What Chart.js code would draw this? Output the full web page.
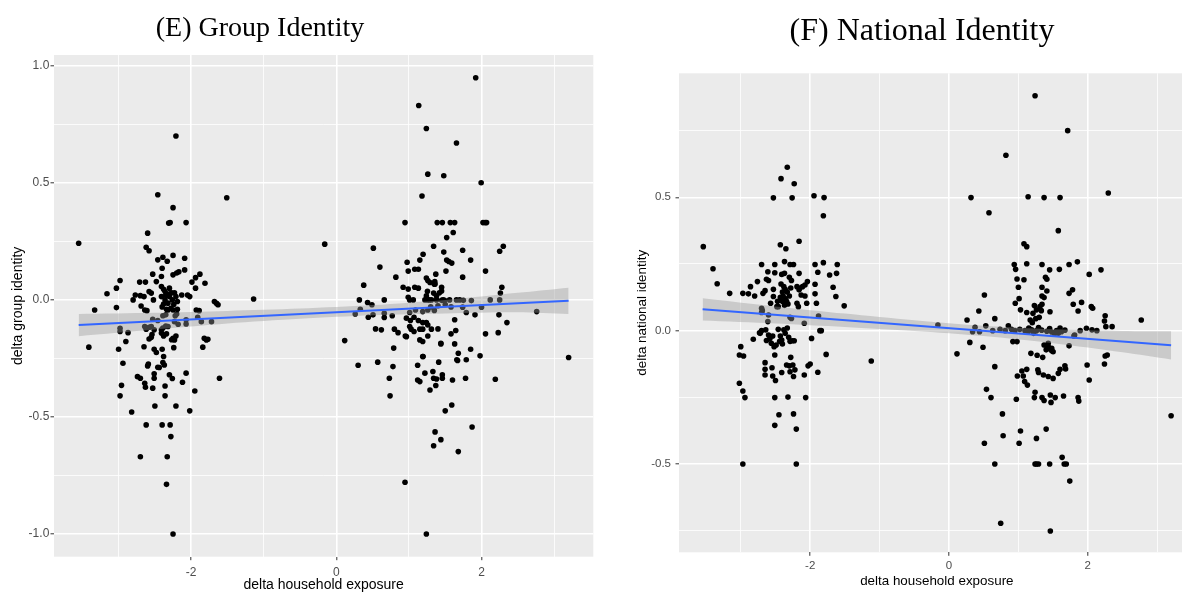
<!DOCTYPE html>
<html>
<head>
<meta charset="utf-8">
<script src="https://cdn.jsdelivr.net/npm/chart.js@4.4.1/dist/chart.umd.min.js"></script>
<style>
  body { margin: 0; overflow: hidden; background: #fff; width: 1182px; height: 594px; }
  .title { position: absolute; font-family: 'Liberation Serif', 'Times New Roman', serif; text-align: center; color: #000; white-space: nowrap; z-index: 2; }
  .panel { position: absolute; top: 0; }
</style>
</head>
<body>
<div class="title" style="left:60px; top:13px; width:400px; font-size:28px; line-height:28px;">(E) Group Identity</div>
<div class="title" style="left:722px; top:13px; width:400px; font-size:32px; line-height:32px;">(F) National Identity</div>
<div class="panel" style="left:0; width:600px; height:594px;"><canvas id="chartE" width="600" height="594"></canvas></div>
<div class="panel" style="left:600px; width:600px; height:594px;"><canvas id="chartF" width="600" height="594"></canvas></div>
<script>
// (E) delta household exposure vs delta group identity
const groupPoints = [
  [-3.55,0.242],[-2.21,0.70],[-2.46,0.449],[-1.51,0.436],[-2.25,0.394],[-2.31,0.328],[-2.29,0.33],[-2.07,0.33],
  [-2.60,0.285],[-2.62,0.225],[-2.58,0.21],[-2.25,0.19],[-2.46,0.171],[-2.39,0.182],[-2.33,0.165],[-2.09,0.178],
  [-2.40,0.135],[-2.53,0.11],[-2.41,0.10],[-2.25,0.107],[-2.20,0.115],[-2.17,0.12],[-2.09,0.128],[-2.98,0.083],
  [-3.03,0.05],[-2.71,0.076],[-2.63,0.076],[-2.48,0.078],[-1.99,0.076],[-1.94,0.095],[-1.88,0.11],[-1.81,0.071],
  [-1.94,0.05],[-3.16,0.026],[-2.77,0.021],[-2.70,0.018],[-2.65,0.014],[-2.80,0.0],[-2.58,0.036],[-2.55,0.029],
  [-2.52,0.0],[-2.41,0.057],[-2.38,0.045],[-2.36,0.036],[-2.41,0.014],[-2.32,0.025],[-2.36,0.0],[-2.30,0.014],
  [-2.26,0.0],[-2.32,-0.014],[-2.38,-0.018],[-2.21,0.014],[-2.19,-0.007],[-2.24,-0.02],[-2.28,-0.036],[-2.34,-0.04],
  [-2.40,-0.03],[-2.30,0.05],[-2.27,0.03],[-2.35,0.02],[-2.23,0.03],[-2.13,0.021],[-2.05,0.021],[-2.02,0.014],
  [-1.68,-0.007],[-1.63,-0.021],[-1.65,-0.015],[-1.14,0.004],
  [-3.33,-0.043],[-3.03,-0.033],[-2.69,-0.026],[-2.64,-0.043],[-2.61,-0.046],[-2.32,-0.043],[-2.25,-0.043],[-2.19,-0.04],
  [-2.20,-0.06],[-1.93,-0.043],[-1.89,-0.046],[-2.39,-0.068],[-2.35,-0.064],[-2.22,-0.068],[-2.53,-0.083],[-2.46,-0.088],
  [-2.23,-0.093],[-2.18,-0.104],[-2.07,-0.085],[-2.07,-0.103],[-1.91,-0.074],[-1.86,-0.093],[-1.72,-0.093],[-2.98,-0.121],
  [-2.98,-0.135],[-2.87,-0.14],[-2.64,-0.114],[-2.62,-0.125],[-2.58,-0.117],[-2.55,-0.114],[-2.51,-0.128],[-2.41,-0.128],
  [-2.39,-0.12],[-2.35,-0.112],[-2.32,-0.114],[-2.41,-0.142],[-2.38,-0.154],[-2.34,-0.145],[-2.25,-0.164],[-2.21,-0.154],
  [-2.23,-0.171],[-2.90,-0.178],[-2.58,-0.167],[-2.55,-0.16],[-2.54,-0.148],[-2.27,-0.17],[-1.82,-0.164],[-1.79,-0.171],
  [-1.77,-0.168],[-1.84,-0.202],[-3.41,-0.202],[-3.00,-0.211],[-2.65,-0.2],[-2.51,-0.211],[-2.48,-0.225],[-2.40,-0.211],
  [-2.24,-0.204],[-2.94,-0.271],[-2.59,-0.274],[-2.60,-0.282],[-2.46,-0.288],[-2.38,-0.242],[-2.39,-0.268],[-2.37,-0.278],
  [-2.96,-0.365],[-2.98,-0.41],[-2.82,-0.479],[-2.74,-0.328],[-2.70,-0.335],[-2.64,-0.356],[-2.63,-0.373],[-2.51,-0.316],
  [-2.51,-0.335],[-2.53,-0.377],[-2.50,-0.453],[-2.62,-0.534],[-2.70,-0.67],[-2.44,-0.289],[-2.30,-0.32],[-2.26,-0.336],
  [-2.36,-0.368],[-2.36,-0.41],[-2.21,-0.453],[-2.40,-0.534],[-2.29,-0.534],[-2.28,-0.584],[-2.33,-0.67],[-2.34,-0.788],
  [-2.25,-1.0],[-2.07,-0.313],[-2.12,-0.352],[-1.95,-0.389],[-2.02,-0.474],[-1.61,-0.335],
  [1.92,0.949],[1.135,0.83],[1.24,0.732],[1.655,0.67],[1.26,0.537],[1.48,0.53],[1.995,0.5],[1.18,0.444],
  [0.946,0.33],[1.39,0.33],[1.46,0.33],[1.57,0.33],[1.63,0.33],[2.02,0.33],[2.05,0.33],[2.07,0.33],
  [1.61,0.288],[1.52,0.266],[-0.16,0.238],[0.51,0.221],[1.34,0.229],[2.30,0.229],[2.25,0.208],[1.48,0.204],
  [1.74,0.212],[1.195,0.195],[1.15,0.17],[0.975,0.161],[1.52,0.17],[1.55,0.164],[1.59,0.157],[1.85,0.17],
  [0.60,0.14],[1.08,0.131],[1.13,0.131],[0.99,0.123],[1.51,0.123],[2.055,0.123],[0.82,0.097],[1.37,0.11],
  [1.74,0.097],[1.24,0.093],[1.26,0.083],[1.29,0.074],[0.377,0.063],[0.92,0.054],[0.99,0.046],[1.08,0.054],
  [1.13,0.05],[1.255,0.037],[1.35,0.067],[1.34,0.029],[1.45,0.054],[2.28,0.054],[2.26,0.029],[1.356,0.078],
  [1.36,0.068],[1.45,0.038],[1.24,0.017],[1.38,0.017],[1.42,0.03],
  [0.317,0.0],[0.43,-0.011],[0.66,0.0],[0.99,0.011],[1.01,0.0],[1.06,0.0],[1.22,0.0],[1.26,0.0],
  [1.31,0.0],[1.38,0.0],[1.45,-0.002],[1.49,-0.002],[1.56,0.0],[1.655,0.0],[1.70,0.0],[1.75,-0.002],
  [1.86,-0.003],[2.12,0.0],[2.25,0.0],[1.47,0.0],[1.28,0.0],
  [0.33,-0.04],[0.49,-0.021],[0.26,-0.06],[0.44,-0.074],[0.505,-0.064],[0.66,-0.075],[0.66,-0.057],[0.77,-0.068],
  [1.01,-0.054],[1.09,-0.043],[1.19,-0.05],[1.26,-0.043],[0.965,-0.078],[1.02,-0.088],[1.07,-0.074],[1.13,-0.088],
  [1.19,-0.097],[1.24,-0.097],[1.26,-0.107],[1.01,-0.114],[1.03,-0.125],[1.07,-0.135],[0.965,-0.157],[1.15,-0.125],
  [1.19,-0.125],[1.31,-0.125],[1.40,-0.124],[1.15,-0.171],[1.19,-0.178],[1.26,-0.154],[0.54,-0.124],[0.62,-0.128],
  [0.80,-0.125],[0.85,-0.14],[0.95,-0.154],[0.115,-0.174],[0.79,-0.206],[1.19,-0.242],[1.44,-0.188],[1.58,-0.145],
  [1.645,-0.131],[1.63,-0.085],[1.63,-0.188],[1.68,-0.228],[1.66,-0.256],[1.79,-0.256],[1.85,-0.211],[1.98,-0.239],
  [2.055,-0.145],[2.23,-0.14],[2.24,-0.064],[2.35,-0.097],[0.30,-0.279],[0.57,-0.266],[0.73,-0.335],[0.74,-0.41],
  [0.78,-0.285],[1.12,-0.279],[1.12,-0.342],[1.15,-0.349],[1.22,-0.313],[1.29,-0.385],[1.33,-0.306],[1.34,-0.335],
  [1.38,-0.338],[1.37,-0.366],[1.41,-0.266],[1.46,-0.32],[1.46,-0.335],[1.60,-0.342],[1.78,-0.335],[2.19,-0.339],
  [1.50,-0.474],[1.59,-0.449],[1.36,-0.564],[1.34,-0.623],[1.44,-0.597],[1.68,-0.648],[1.87,-0.543],[1.67,-0.259],
  [1.44,-0.185],[1.195,-0.242],[0.946,-0.779],[1.24,-1.0],[3.20,-0.246],[2.76,-0.05],[1.74,-0.031],[1.79,-0.054],
  [1.91,-0.064],[2.0,-0.031],[1.30,-0.03],[1.35,-0.045],[1.40,-0.025],[1.50,-0.02],[1.58,-0.03]
];
const groupLineX = [-3.55, 3.2];
const groupLineY = [-0.107, -0.004];
const groupBandX = [-3.55, -2.5, -1.5, -0.5, 0.5, 1.5, 2.5, 3.2];
const groupBandUpper = [-0.06, -0.055, -0.047, -0.037, -0.022, 0.0, 0.03, 0.052];
const groupBandLower = [-0.155, -0.127, -0.101, -0.081, -0.066, -0.058, -0.053, -0.06];
const groupYTicks = [-1, -0.75, -0.5, -0.25, 0, 0.25, 0.5, 0.75, 1];

// (F) delta household exposure vs delta national identity
const nationalPoints = [
  [-3.54,0.315],[-3.40,0.232],[-3.34,0.176],[-3.16,0.14],[-2.97,0.14],[-2.89,0.138],[-2.80,0.13],[-2.86,0.165],
  [-2.76,0.184],[-2.70,0.248],[-2.61,0.221],[-2.63,0.193],[-2.60,0.188],[-2.68,0.14],[-2.65,0.15],[-2.53,0.498],
  [-2.42,0.57],[-2.33,0.613],[-2.23,0.551],[-2.26,0.498],[-2.43,0.322],[-2.35,0.307],[-2.16,0.335],[-1.945,0.506],
  [-1.80,0.499],[-1.81,0.431],[-2.51,0.248],[-2.37,0.259],[-2.29,0.248],[-2.24,0.248],[-2.51,0.217],[-2.41,0.211],
  [-2.37,0.215],[-2.16,0.215],[-1.93,0.248],[-1.81,0.255],[-1.89,0.219],[-1.72,0.209],[-1.61,0.248],[-1.62,0.215],
  [-2.30,0.2],[-2.27,0.188],[-2.42,0.175],[-2.38,0.165],[-2.36,0.155],[-2.40,0.145],[-2.39,0.13],[-2.36,0.12],
  [-2.34,0.11],[-2.32,0.1],[-2.37,0.095],[-2.40,0.11],[-2.43,0.125],[-2.47,0.11],[-2.46,0.09],[-2.30,0.13],
  [-2.33,0.145],[-2.28,0.16],[-2.53,0.155],[-2.53,0.128],[-2.19,0.165],[-2.15,0.159],[-2.11,0.165],[-2.075,0.171],
  [-2.04,0.184],[-2.16,0.153],[-2.13,0.134],[-2.075,0.13],[-1.93,0.174],[-1.93,0.138],[-1.91,0.103],[-1.67,0.163],
  [-1.63,0.128],[-1.51,0.093],[-2.19,0.103],[-2.17,0.09],[-2.05,0.103],[-2.70,0.084],[-2.69,0.075],[-2.57,0.103],
  [-2.70,0.068],[-2.60,0.059],[-2.61,0.034],[-2.48,0.09],[-2.29,0.05],[-2.27,0.046],[-2.085,0.028],[-1.88,0.055],
  [-2.82,-0.032],[-2.72,-0.01],[-2.70,0.0],[-2.64,0.003],[-2.60,-0.016],[-2.58,-0.029],[-2.54,-0.02],[-2.63,-0.037],
  [-2.56,-0.047],[-2.52,-0.06],[-2.49,-0.054],[-2.46,0.005],[-2.43,-0.02],[-2.41,-0.035],[-2.38,0.003],[-2.36,-0.01],
  [-2.33,0.01],[-2.31,-0.025],[-2.29,-0.04],[-2.26,-0.038],[-2.23,-0.038],[-2.40,-0.05],[-2.44,-0.04],[-2.73,-0.008],
  [-3.0,-0.06],[-3.02,-0.091],[-2.96,-0.095],[-2.51,-0.091],[-2.28,-0.1],[-2.34,-0.129],[-2.30,-0.132],[-2.25,-0.129],
  [-2.65,-0.12],[-2.55,-0.139],[-2.65,-0.145],[-2.41,-0.157],[-2.29,-0.154],[-2.22,-0.147],[-2.65,-0.166],[-2.54,-0.17],
  [-2.085,-0.166],[-2.03,-0.132],[-2.0,-0.125],[-1.89,-0.156],[-1.77,-0.089],[-1.98,-0.029],[-1.86,0.0],[-1.84,0.0],
  [-1.12,-0.114],[-3.02,-0.197],[-2.97,-0.226],[-2.94,-0.251],[-2.97,-0.5],[-2.51,-0.251],[-2.45,-0.315],[-2.51,-0.355],
  [-2.32,-0.249],[-2.24,-0.312],[-2.20,-0.369],[-2.20,-0.5],[-2.065,-0.251],[-2.24,-0.172],[-2.50,-0.187],
  [1.24,0.881],[1.71,0.75],[0.82,0.658],[0.317,0.499],[0.576,0.442],[1.14,0.502],[1.37,0.499],[1.60,0.499],
  [2.295,0.516],[1.575,0.375],[1.08,0.326],[1.12,0.315],[0.94,0.248],[0.96,0.23],[1.12,0.251],[1.34,0.248],
  [1.45,0.228],[1.59,0.23],[1.73,0.248],[1.85,0.258],[2.02,0.211],[2.19,0.228],[0.98,0.194],[1.08,0.191],
  [1.39,0.2],[1.41,0.193],[1.0,0.163],[1.34,0.163],[1.41,0.149],[1.34,0.13],[1.37,0.124],[1.01,0.12],
  [0.51,0.134],[0.43,0.074],[0.66,0.045],[0.955,0.103],[1.03,0.078],[1.12,0.068],[1.21,0.065],[1.23,0.094],
  [1.31,0.09],[1.34,0.099],[1.33,0.075],[1.26,0.078],[1.455,0.071],[1.73,0.14],[1.78,0.153],[1.79,0.099],
  [1.86,0.074],[1.91,0.106],[2.05,0.09],[2.07,0.084],[2.25,0.056],[2.77,0.04],[0.26,0.04],[-0.16,0.021],
  [0.375,0.013],[0.34,-0.004],[0.44,-0.004],[0.53,0.018],[0.63,0.0],[0.855,0.018],[2.24,0.036],[2.26,0.015],
  [2.35,0.015],[1.98,0.009],[2.06,0.003],[2.13,0.0],[0.735,0.005],[0.81,0.0],[0.90,0.005],[0.95,0.0],
  [1.02,0.005],[1.095,0.0],[1.14,-0.004],[1.19,0.003],[1.26,0.0],[1.335,0.002],[1.41,-0.002],[1.48,-0.005],
  [1.55,0.0],[1.62,-0.004],[1.67,0.002],[1.89,0.0],[1.15,0.01],[1.22,-0.01],[1.29,0.012],[1.45,0.008],
  [1.52,-0.012],[1.60,0.01],[1.17,0.04],[1.2,0.03],[1.25,0.045],[1.3,0.05],
  [0.30,-0.044],[0.49,-0.062],[0.115,-0.087],[0.66,-0.135],[0.92,-0.041],[0.98,-0.041],[1.37,-0.054],[1.43,-0.06],
  [1.48,-0.075],[1.41,-0.069],[1.73,-0.057],[1.80,-0.02],[1.575,-0.01],[1.18,-0.085],[1.27,-0.092],[1.35,-0.1],
  [2.25,-0.095],[2.28,-0.091],[2.24,-0.125],[1.99,-0.129],[2.02,-0.185],[0.54,-0.22],[0.605,-0.251],[0.77,-0.312],
  [0.78,-0.394],[0.51,-0.422],[0.66,-0.5],[0.745,-0.722],[0.97,-0.257],[0.985,-0.17],[1.05,-0.151],[1.07,-0.17],
  [1.12,-0.145],[1.09,-0.191],[1.13,-0.204],[1.03,-0.376],[1.01,-0.422],[1.40,-0.072],[1.43,-0.047],[1.48,-0.066],
  [1.50,-0.079],[1.28,-0.147],[1.29,-0.157],[1.36,-0.166],[1.43,-0.172],[1.50,-0.179],[1.575,-0.16],[1.60,-0.145],
  [1.67,-0.132],[1.68,-0.144],[1.24,-0.231],[1.23,-0.251],[1.34,-0.251],[1.37,-0.262],[1.47,-0.269],[1.46,-0.241],
  [1.53,-0.251],[1.65,-0.245],[1.86,-0.251],[1.87,-0.264],[1.40,-0.369],[1.26,-0.404],[1.24,-0.5],[1.26,-0.5],
  [1.29,-0.5],[1.45,-0.5],[1.63,-0.475],[1.66,-0.5],[1.69,-0.5],[1.74,-0.564],[1.46,-0.751],[3.20,-0.319],
  [1.81,-0.016]
];
const nationalLineX = [-3.55, 3.2];
const nationalLineY = [0.08, -0.055];
const nationalBandX = [-3.55, -2.5, -1.5, -0.5, 0.5, 1.5, 2.5, 3.2];
const nationalBandUpper = [0.122, 0.091, 0.064, 0.039, 0.018, 0.005, -0.001, -0.002];
const nationalBandLower = [0.038, 0.027, 0.014, -0.001, -0.02, -0.047, -0.081, -0.108];
const nationalYTicks = [-0.75, -0.5, -0.25, 0, 0.25, 0.5, 0.75];

const xTicks = [-3, -2, -1, 0, 1, 2, 3];

// grey panel behind the grid, like ggplot
const panelBg = {
  id: 'panelBg',
  beforeDraw(chart) {
    const { ctx, chartArea: a } = chart;
    ctx.save();
    ctx.fillStyle = '#EBEBEB';
    ctx.fillRect(a.left, a.top, a.right - a.left, a.bottom - a.top);
    ctx.restore();
  }
};

function isMajor(v, step) {
  return Math.abs(v / step - Math.round(v / step)) < 1e-6;
}

function gridFor(step) {
  return {
    color: '#FFFFFF',
    lineWidth: c => (c.tick && isMajor(c.tick.value, step)) ? 1.6 : 0.8,
    tickColor: c => (c.tick && isMajor(c.tick.value, step)) ? '#333333' : 'rgba(0,0,0,0)',
    tickWidth: 1,
    tickLength: 3.5,
    drawTicks: true
  };
}

function makeChart(id, o) {
  const pts = o.points.map(p => ({ x: p[0], y: p[1] }));
  const line = o.lineX.map((x, i) => ({ x, y: o.lineY[i] }));
  const up = o.bandX.map((x, i) => ({ x, y: o.bandUpper[i] }));
  const lo = o.bandX.map((x, i) => ({ x, y: o.bandLower[i] }));
  return new Chart(document.getElementById(id), {
    type: 'scatter',
    data: {
      datasets: [
        { type: 'line', data: line, borderColor: '#3366FF', borderWidth: 2, pointRadius: 0, fill: false },
        { type: 'line', data: up, borderWidth: 0, borderColor: 'rgba(0,0,0,0)', pointRadius: 0, tension: 0.3, fill: false },
        { type: 'line', data: lo, borderWidth: 0, borderColor: 'rgba(0,0,0,0)', pointRadius: 0, tension: 0.3,
          fill: '-1', backgroundColor: 'rgba(153,153,153,0.4)' },
        { data: pts, backgroundColor: '#000000', borderWidth: 0, pointRadius: 2.8, pointHoverRadius: 2.8 }
      ]
    },
    options: {
      responsive: false,
      animation: false,
      events: [],
      layout: { padding: o.padding },
      plugins: { legend: { display: false }, tooltip: { enabled: false } },
      scales: {
        x: {
          type: 'linear', min: -3.89, max: 3.54,
          afterBuildTicks: s => { s.ticks = xTicks.map(v => ({ value: v })); },
          afterFit: s => { s.height = o.xHeight; },
          grid: gridFor(2),
          border: { display: false },
          ticks: {
            autoSkip: false, maxRotation: 0, padding: o.xTickPad, color: '#4D4D4D',
            font: { family: 'Liberation Sans', size: o.tickSize },
            callback: v => isMajor(v, 2) ? String(v) : ''
          },
          title: {
            display: true, text: 'delta household exposure', color: '#000',
            font: { family: 'Liberation Sans', size: o.titleSize }, padding: { top: 0, bottom: o.xTitlePad }
          }
        },
        y: {
          type: 'linear', min: o.yMin, max: o.yMax,
          afterBuildTicks: s => { s.ticks = o.yTicks.map(v => ({ value: v })); },
          afterFit: s => { s.width = o.yWidth; },
          grid: gridFor(0.5),
          border: { display: false },
          ticks: {
            autoSkip: false, padding: o.yTickPad, color: '#4D4D4D',
            font: { family: 'Liberation Sans', size: o.tickSize },
            callback: v => isMajor(v, 0.5) ? v.toFixed(1) : ''
          },
          title: {
            display: true, text: o.yTitle, color: '#000',
            font: { family: 'Liberation Sans', size: o.titleSize }, padding: { top: o.yTitlePad, bottom: 0 }
          }
        }
      }
    },
    plugins: [panelBg]
  });
}

makeChart('chartE', {
  points: groupPoints, lineX: groupLineX, lineY: groupLineY,
  bandX: groupBandX, bandUpper: groupBandUpper, bandLower: groupBandLower,
  yTicks: groupYTicks, yMin: -1.097, yMax: 1.046, yTitle: 'delta group identity',
  padding: { left: 0, right: 6.7, top: 55, bottom: 0 },
  xHeight: 37.3, yWidth: 54, tickSize: 12, titleSize: 14,
  xTickPad: 5, xTitlePad: 0, yTickPad: 1.2, yTitlePad: 9.6
});

makeChart('chartF', {
  points: nationalPoints, lineX: nationalLineX, lineY: nationalLineY,
  bandX: nationalBandX, bandUpper: nationalBandUpper, bandLower: nationalBandLower,
  yTicks: nationalYTicks, yMin: -0.831, yMax: 0.965, yTitle: 'delta national identity',
  padding: { left: 0, right: 5.3, top: 73.3, bottom: 0 },
  xHeight: 41.7, yWidth: 79, tickSize: 11.5, titleSize: 13.4,
  xTickPad: 3.5, xTitlePad: 4.6, yTickPad: 4.5, yTitlePad: 34.6
});
</script>
</body>
</html>
